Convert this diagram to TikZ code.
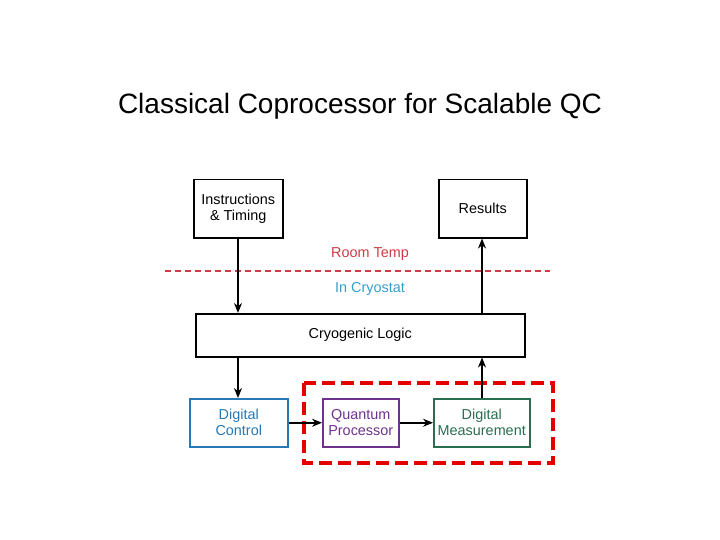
\documentclass[tikz,border=0pt]{standalone}
\usepackage{fontspec}
\setmainfont{Liberation Sans}
\usetikzlibrary{arrows.meta}
\definecolor{dblue}{RGB}{40,120,180}
\definecolor{dpurple}{RGB}{110,50,140}
\definecolor{dgreen}{RGB}{40,110,80}
\definecolor{lred}{RGB}{205,60,70}
\definecolor{cyanb}{RGB}{50,160,210}
\begin{document}
\begin{tikzpicture}[x=1pt,y=-1pt,
  box/.style={draw,line width=1.5pt,inner sep=0pt,align=center,font=\fontsize{14.4}{16}\selectfont,anchor=north west},
  arr/.style={-{Stealth[length=10pt,width=8pt]},line width=1.8pt}]
\useasboundingbox (0,0) rectangle (720,540);
\node at (360,106) {\fontsize{28}{32}\selectfont Classical Coprocessor for Scalable QC};
\node[box,minimum width=89pt,minimum height=58pt] (ins) at (193,179) {Instructions\\\& Timing};
\node[box,minimum width=88pt,minimum height=58pt] (res) at (438,179) {Results};
\draw[draw=lred,line width=1.5pt,dash pattern=on 6pt off 4pt] (165,271) coordinate (l1) -- (550,271) coordinate (l2);
\node[text=lred,font=\fontsize{14.4}{16}\selectfont] (rt) at (370,254) {Room Temp};
\node[text=cyanb,font=\fontsize{14.4}{16}\selectfont] (ic) at (370,289) {In Cryostat};
\node[box,minimum width=329pt,minimum height=43pt] (cryo) at (195,313) {Cryogenic Logic};
\node[box,draw=dblue,text=dblue,minimum width=98pt,minimum height=48pt] (dc) at (189,398) {Digital\\Control};
\node[box,draw=dpurple,text=dpurple,minimum width=76pt,minimum height=48pt] (qp) at (322,398) {Quantum\\Processor};
\node[box,draw=dgreen,text=dgreen,minimum width=96pt,minimum height=48pt] (dm) at (433,398) {Digital\\Measurement};
\draw[red!90!black,line width=3.5pt,dash pattern=on 13pt off 6pt] (304,383) rectangle (553,463);
\draw[arr] (ins.south -| 238,0) -- (cryo.north -| 238,0);
\draw[arr] (cryo.north -| 482,0) -- (res.south -| 482,0);
\draw[arr] (cryo.south -| 238,0) -- (dc.north -| 238,0);
\draw[arr] (dm.north -| 482,0) -- (cryo.south -| 482,0);
\draw[arr] (dc.east) -- (qp.west);
\draw[arr] (qp.east) -- (dm.west);
\end{tikzpicture}
\end{document}
